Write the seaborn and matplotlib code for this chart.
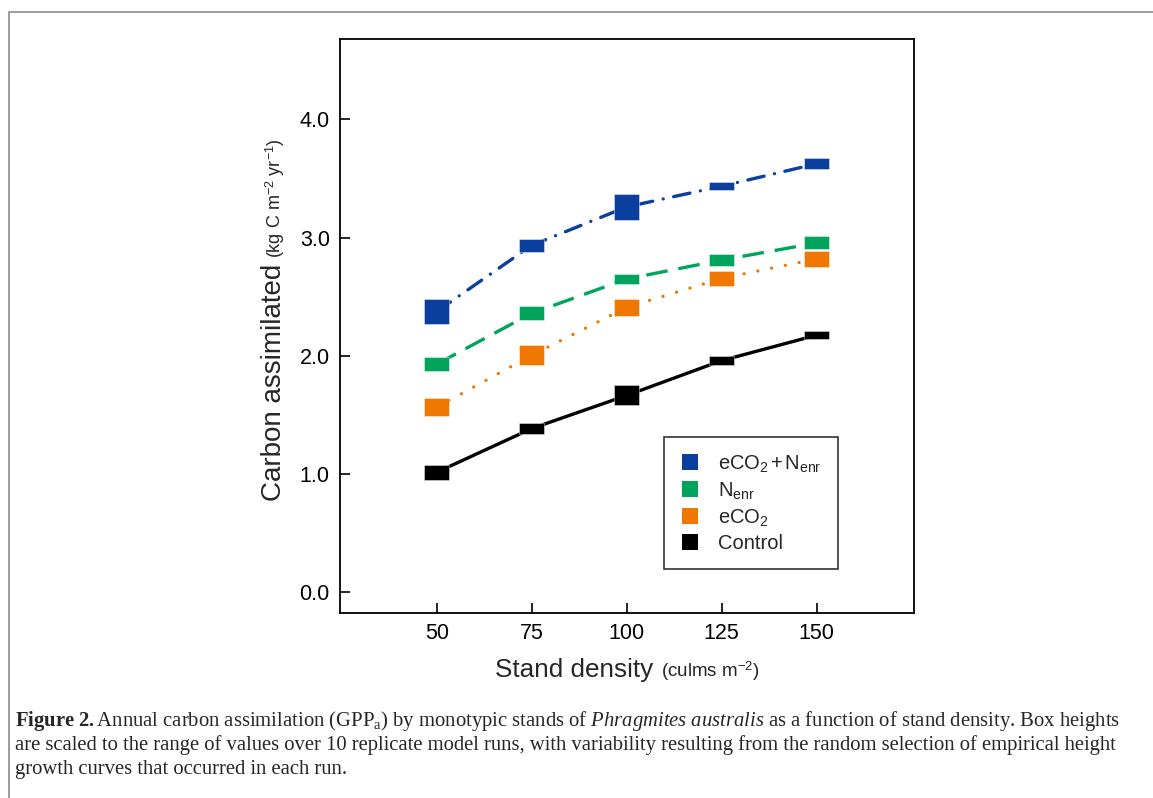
import numpy as np
import matplotlib
matplotlib.use("Agg")
import matplotlib.pyplot as plt
import seaborn as sns
from matplotlib.patches import Rectangle
from matplotlib.lines import Line2D

# ---- data ----
density = [50, 75, 100, 125, 150]
control_lo = [0.95, 1.34, 1.58, 1.92, 2.14]
control_hi = [1.08, 1.43, 1.75, 2.00, 2.21]
eco2_lo = [1.49, 1.92, 2.34, 2.59, 2.75]
eco2_hi = [1.64, 2.09, 2.48, 2.72, 2.89]
nenr_lo = [1.87, 2.30, 2.61, 2.76, 2.90]
nenr_hi = [1.99, 2.42, 2.69, 2.86, 3.01]
both_lo = [2.27, 2.88, 3.15, 3.40, 3.58]
both_hi = [2.48, 2.99, 3.37, 3.47, 3.67]

labels = ["eCO$_\\mathdefault{2}\\,\\mathdefault{+}\\,$N$_\\mathdefault{enr}$",
          "N$_\\mathdefault{enr}$",
          "eCO$_\\mathdefault{2}$",
          "Control"]
colors = ["#0a3f9e", "#00a45a", "#f07800", "#000000"]
yticks = [0.0, 1.0, 2.0, 3.0, 4.0]

sns.set_style("ticks")
plt.rcParams["font.family"] = ["Liberation Sans", "DejaVu Sans"]
plt.rcParams["mathtext.fontset"] = "custom"
plt.rcParams["mathtext.rm"] = "Liberation Sans"
plt.rcParams["mathtext.it"] = "Liberation Serif:italic"
plt.rcParams["mathtext.bf"] = "Liberation Serif:bold"

W, H = 1153, 798
fig = plt.figure(figsize=(W / 100, H / 100), dpi=100)
ax = fig.add_axes([339.5 / W, 1 - 613.3 / H, (914 - 339.5) / W, (613.3 - 39) / H])

series = [
    (both_lo, both_hi, colors[0], (0, (5, 3.2, 0.01, 3.2)), "round"),
    (nenr_lo, nenr_hi, colors[1], (0, (6.5, 3.3)), "butt"),
    (eco2_lo, eco2_hi, colors[2], (0, (0.01, 4.2)), "round"),
    (control_lo, control_hi, colors[3], "-", "butt"),
]
for lo, hi, col, ls, cap in series:
    lo = np.array(lo); hi = np.array(hi)
    center = (lo + hi) / 2
    sns.lineplot(x=density, y=center, color=col, linewidth=2.4, linestyle=ls,
                 dash_capstyle=cap, ax=ax, legend=False, zorder=2)
    ax.bar(density, hi - lo, bottom=lo, width=6.7, color=col,
           edgecolor=(1, 1, 1, 0.5), linewidth=0.6, zorder=3)

ax.set_xlim(24.4, 175.6)
ax.set_ylim(-0.178, 4.68)
ax.set_xticks(density)
ax.set_xticklabels([str(d) for d in density])
ax.set_yticks(yticks)
ax.set_yticklabels([f"{v:.1f}" for v in yticks])
ax.tick_params(direction="in", length=7.5, width=1.2, labelsize=15.5, pad=7, colors="black")
for s in ax.spines.values():
    s.set_visible(True)
    s.set_linewidth(1.3)
    s.set_color("black")
ax.set_xlabel("")
ax.set_ylabel("")

handles = [Line2D([], [], marker="s", color=c, linestyle="none", markersize=11.5,
                  markeredgewidth=0) for c in colors]
leg = ax.legend(handles, labels, loc="upper left", bbox_to_anchor=(0.565, 0.307),
                borderaxespad=0, fontsize=14.5, frameon=True, fancybox=False,
                handlelength=1.0, handletextpad=0.9, borderpad=0.8, labelspacing=0.3)
leg.get_frame().set_edgecolor("black")
leg.get_frame().set_linewidth(1.2)

# axis labels composed of a main part and smaller unit part
fig.text(653 / W, 1 - 677 / H, "Stand density", fontsize=18.8, ha="right", va="baseline")
fig.text(661 / W, 1 - 677 / H, "(culms m$^{\\mathdefault{-2}}$)", fontsize=13.5, ha="left", va="baseline")
fig.text(281 / W, 1 - 264 / H, "Carbon assimilated", fontsize=20, rotation=90,
         rotation_mode="anchor", ha="right", va="baseline")
fig.text(281 / W, 1 - 258 / H, "(kg C m$^{\\mathdefault{-2}}$ yr$^{\\mathdefault{-1}}$)", fontsize=13,
         rotation=90, rotation_mode="anchor", ha="left", va="baseline")

# caption
cap_lines = [
    "$\\mathbf{Figure\\ 2.}$Annual carbon assimilation (GPP$_\\mathdefault{a}$) by monotypic stands of "
    "$\\mathit{Phragmites\\ australis}$ as a function of stand density. Box heights",
    "are scaled to the range of values over 10 replicate model runs, with variability resulting from the random selection of empirical height",
    "growth curves that occurred in each run.",
]
for i, t in enumerate(cap_lines):
    fig.text(15 / W, 1 - (726 + 24 * i) / H, t, fontsize=14.9, ha="left", va="baseline",
             family=["Liberation Serif", "DejaVu Serif"])

# outer frame
fig.patches.append(Rectangle((8.7 / W, -0.1), 1.2, 1 - 12 / H + 0.1, transform=fig.transFigure,
                             fill=False, edgecolor="#8a8a8a", linewidth=1.2))

fig.savefig("out.png", dpi=100)
